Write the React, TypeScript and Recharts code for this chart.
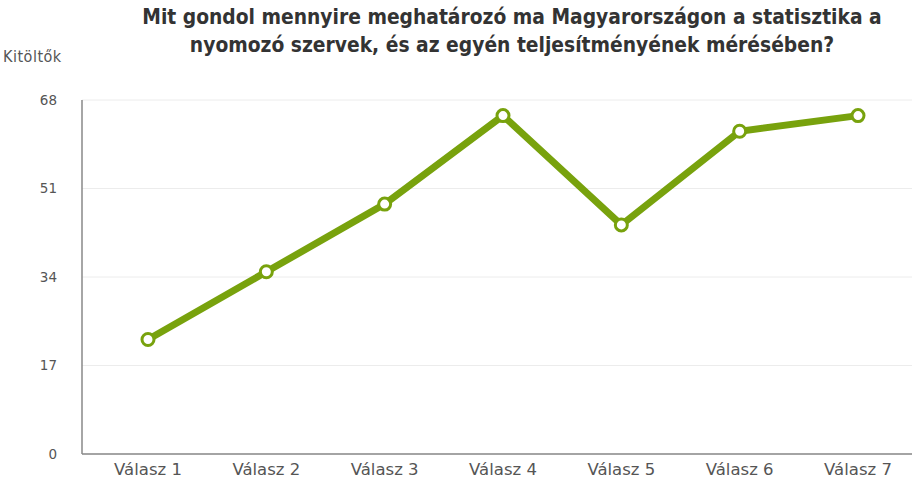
import React from "react";
import { LineChart, Line, XAxis, YAxis, CartesianGrid } from "recharts";

const categories = ["Válasz 1", "Válasz 2", "Válasz 3", "Válasz 4", "Válasz 5", "Válasz 6", "Válasz 7"];
const values = [22, 35, 48, 65, 44, 62, 65];
const yTicks = [0, 17, 34, 51, 68];
const titleLines = [
  "Mit gondol mennyire meghatározó ma Magyarországon a statisztika a",
  "nyomozó szervek, és az egyén teljesítményének mérésében?",
];
const yLabel = "Kitöltők";

const data = categories.map((c, i) => ({ name: c, value: values[i] }));
const font = "'DejaVu Sans', sans-serif";
const condFont = "'DejaVu Sans Condensed', 'DejaVu Sans', sans-serif";
const green = "#78A20D";

export default function App() {
  return (
    <div style={{ position: "absolute", left: 0, top: 0, width: 912, height: 484, background: "#fff", fontFamily: font }}>
      <div style={{ position: "absolute", left: 112, width: 800, top: 3, textAlign: "center", fontWeight: "bold", fontSize: 20.8, lineHeight: "28px", color: "#333", fontFamily: condFont, fontStretch: "condensed" }}>
        {titleLines.map((t) => (
          <div key={t}>{t}</div>
        ))}
      </div>
      <div style={{ position: "absolute", left: 3, top: 47, fontSize: 16, color: "#555", fontFamily: condFont, fontStretch: "condensed", letterSpacing: 0.5 }}>{yLabel}</div>
      <div style={{ position: "absolute", left: 0, top: 0 }}>
        <LineChart width={912} height={484} data={data} margin={{ top: 100, right: 0, bottom: 0, left: 0 }}>
          <CartesianGrid vertical={false} stroke="#ececec" />
          <XAxis
            dataKey="name"
            padding={{ left: 66, right: 54 }}
            axisLine={{ stroke: "#888", strokeWidth: 1.5 }}
            tickLine={false}
            tickSize={0}
            tickMargin={9}
            height={30}
            tick={{ fill: "#555", fontSize: 16.5, fontFamily: font }}
          />
          <YAxis
            domain={[0, 68]}
            ticks={yTicks}
            width={82}
            axisLine={{ stroke: "#888", strokeWidth: 1.5 }}
            tickLine={false}
            tickSize={0}
            tickMargin={25}
            tick={{ fill: "#555", fontSize: 13.5, fontFamily: font }}
          />
          <Line
            dataKey="value"
            stroke={green}
            strokeWidth={7}
            isAnimationActive={false}
            dot={{ r: 6, fill: "#fff", stroke: green, strokeWidth: 3 }}
            activeDot={false}
          />
        </LineChart>
      </div>
    </div>
  );
}
